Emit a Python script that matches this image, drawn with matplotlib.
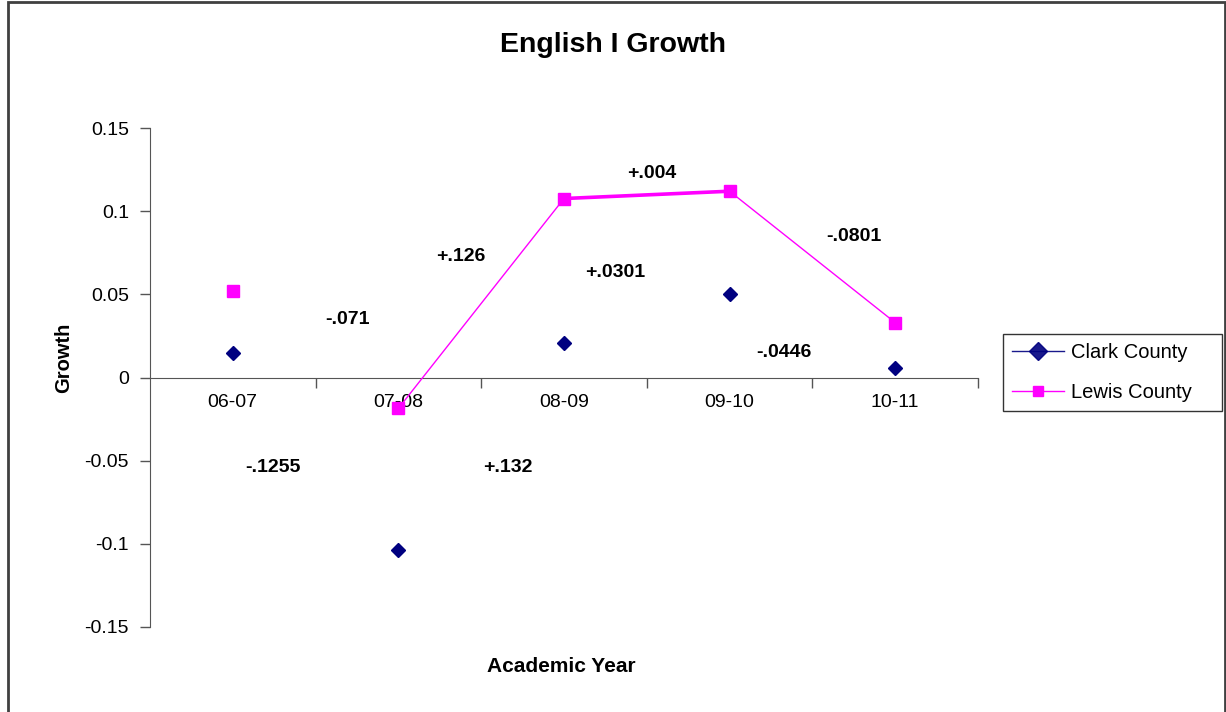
import matplotlib
matplotlib.use("Agg")
import matplotlib.pyplot as plt
import numpy as np
from matplotlib.patches import Rectangle

plt.rcParams['font.family'] = ['Liberation Sans', 'DejaVu Sans']

years = ['06-07', '07-08', '08-09', '09-10', '10-11']
clark = [0.015, -0.104, 0.021, 0.0505, 0.006]
lewis = [0.052, -0.0186, 0.1076, 0.112, 0.033]

# change labels: (text, x, y) in data coords
notes = [('-.071', 0.69, 0.035),
         ('+.126', 1.38, 0.073),
         ('+.004', 2.53, 0.1225),
         ('+.0301', 2.31, 0.063),
         ('-.0801', 3.75, 0.085),
         ('-.0446', 3.33, 0.015),
         ('-.1255', 0.24, -0.054),
         ('+.132', 1.66, -0.054)]

navy = '#000080'
pink = '#ff00ff'

fig = plt.figure(figsize=(12.26, 7.12), dpi=100)
ax = fig.add_axes([0.1223, 0.1194, 0.6754, 0.7008])

x = np.arange(len(years))

# Clark: markers only
ax.plot(x, clark, linestyle='none', marker='D', color=navy, markersize=7.5,
        zorder=4)
# Lewis: line only from 07-08 onward, middle segment thicker
ax.plot(x, lewis, linestyle='none', marker='s', color=pink, markersize=9,
        zorder=4)
ax.plot(x[1:], lewis[1:], color=pink, lw=1.0, zorder=3)
ax.plot(x[2:4], lewis[2:4], color=pink, lw=2.6, zorder=3)

# legend proxies
h1, = ax.plot([], [], color=navy, lw=1.0, marker='D', markersize=9, alpha=0.9)
h2, = ax.plot([], [], color=pink, lw=1.0, marker='s', markersize=7)
leg = fig.legend([h1, h2], ['Clark County', 'Lewis County'],
                 loc='upper left', bbox_to_anchor=(0.818, 0.424, 0.179, 0.107),
                 mode='expand',
                 frameon=True, fancybox=False, edgecolor='black',
                 fontsize=14.5, handlelength=2.6, handletextpad=0.35,
                 borderpad=0.45, labelspacing=1.05, borderaxespad=0)
leg.get_frame().set_linewidth(1.0)

for txt, tx, ty in notes:
    ax.text(tx, ty, txt, ha='center', va='center', fontsize=14,
            fontweight='bold', color='black')

ax.set_xlim(-0.5, len(years) - 0.5)
ax.set_ylim(-0.15, 0.15)
ax.set_yticks([-0.15, -0.1, -0.05, 0, 0.05, 0.1, 0.15])
ax.set_yticklabels(['-0.15', '-0.1', '-0.05', '0', '0.05', '0.1', '0.15'])

# category labels on minor ticks, boundary ticks as major
ax.set_xticks(np.arange(len(years)) + 0.5)
ax.set_xticklabels([])
ax.set_xticks(x, minor=True)
ax.set_xticklabels(years, minor=True)
ax.tick_params(axis='x', which='major', direction='out', length=7,
               color='#555555', width=1)
ax.tick_params(axis='x', which='minor', length=0, pad=12, labelsize=14)
ax.tick_params(axis='y', direction='out', length=7, color='#555555',
               width=1, labelsize=14, pad=8)

for s in ['top', 'right']:
    ax.spines[s].set_visible(False)
ax.spines['bottom'].set_position(('data', 0))
ax.spines['bottom'].set_color('#555555')
ax.spines['left'].set_color('#555555')

fig.text(0.5, 0.937, 'English I Growth', ha='center', va='center',
         fontsize=20.5, fontweight='bold')
fig.text(0.458, 0.064, 'Academic Year', ha='center', va='center',
         fontsize=15, fontweight='bold')
fig.text(0.052, 0.497, 'Growth', ha='center', va='center', rotation=90,
         fontsize=14.5, fontweight='bold')

# outer border of the chart area
fig.patches.append(Rectangle((0.0065, -0.02), 0.9925, 1.017,
                             transform=fig.transFigure, fill=False,
                             edgecolor='#404040', lw=2))

fig.savefig('out.png', dpi=100)
